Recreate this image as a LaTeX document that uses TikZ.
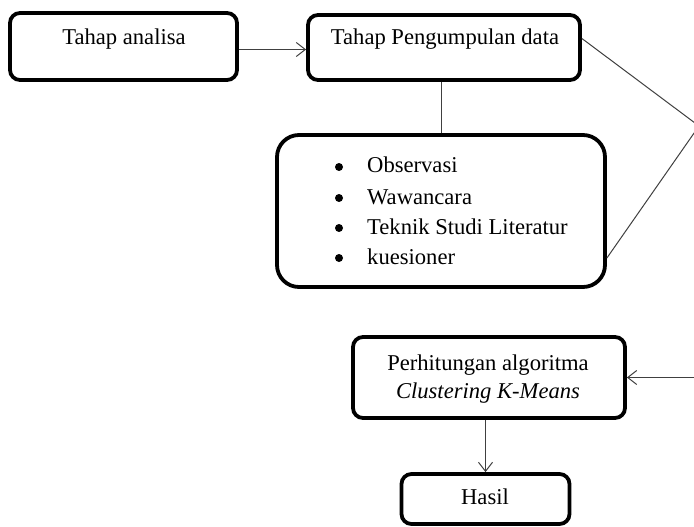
\documentclass[tikz,border=0pt]{standalone}
\usepackage{fontspec}
\setmainfont{Liberation Serif}
\usetikzlibrary{arrows.meta}
\begin{document}
\begin{tikzpicture}[x=1pt,y=-1pt,
 box/.style={draw=black, line width=3.8pt, rounded corners=10pt, inner sep=0pt},
 lbl/.style={anchor=base, inner sep=0pt, font=\fontsize{22.6}{27}\selectfont},
 itm/.style={anchor=base west, inner sep=0pt, font=\fontsize{22.6}{27}\selectfont},
 dot/.style={circle, fill=black, inner sep=0pt, minimum size=8pt},
 conn/.style={draw=black!75, line width=1pt},
 arr/.style={conn, -{Straight Barb[length=9pt,width=14pt]}}]
\useasboundingbox (0,0) rectangle (694,527);
\clip (0,0) rectangle (694,527);
\fill[white] (0,0) rectangle (694,527);
% boxes
\node[box, minimum width=227pt, minimum height=67pt] (ana) at (123.5,46.5) {};
\node[lbl] (tana) at (124,45) {Tahap analisa};
\node[box, minimum width=272pt, minimum height=65pt] (peng) at (444,47.5) {};
\node[lbl] (tpeng) at (445,45) {Tahap Pengumpulan data};
\node[box, rounded corners=22pt, minimum width=328pt, minimum height=152pt] (list) at (441,211) {};
\node[dot] (b1) at (339,167) {};
\node[dot] (b2) at (339,198) {};
\node[dot] (b3) at (339,228) {};
\node[dot] (b4) at (339,258) {};
\node[itm] (i1) at (367,172.5) {Observasi};
\node[itm] (i2) at (367,204) {Wawancara};
\node[itm] (i3) at (367,234) {Teknik Studi Literatur};
\node[itm] (i4) at (367,264) {kuesioner};
\node[box, minimum width=272pt, minimum height=81pt] (hit) at (489,377.5) {};
\node[lbl] (thit1) at (488,370) {Perhitungan algoritma};
\node[lbl] (thit2) at (488,398) {\itshape Clustering K-Means};
\node[box, minimum width=168pt, minimum height=50pt] (has) at (485.5,499) {};
\node[lbl] (thas) at (485,504) {Hasil};
% connectors
\draw[arr] ([yshift=-3pt]ana.east) -- ([yshift=-3pt]ana.east -| peng.west);
\draw[conn] (list.north) -- (list.north |- peng.south);
\coordinate (apex) at (699,126);
\draw[conn] ([yshift=9pt]peng.east) -- (apex);
\draw[conn] ([yshift=-47pt]list.east) -- (apex);
\coordinate (rin) at (699,377.5);
\draw[arr] (rin) -- (hit.east);
\draw[arr] (has.north |- hit.south) -- (has.north);
\end{tikzpicture}
\end{document}
